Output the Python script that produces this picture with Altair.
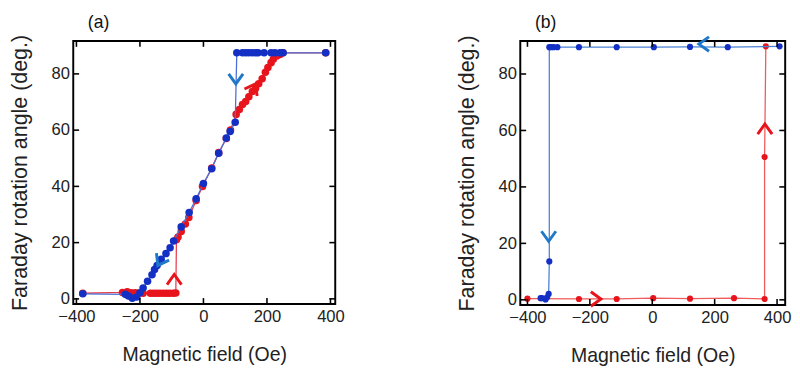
import altair as alt
import pandas as pd

# ---------------- data ----------------
x_ticks = [-400, -200, 0, 200, 400]
y_ticks = [0, 20, 40, 60, 80]

# Panel (a): blue = decreasing field branch, red = increasing field branch
a_blue_x = [385, 251, 241, 225, 213, 191, 172, 164, 154, 143, 133, 123, 105,
            100, 84, 72, 48, 26, 0, -23, -45, -70, -94, -105, -118, -133, -146,
            -154, -162, -176, -190, -200, -210, -224, -236, -246, -380]
a_blue_y = [87.5, 87.5, 87.5, 87.5, 87.5, 87.5, 87.5, 87.5, 87.5, 87.5, 87.5, 87.5, 87.5,
            62.8, 59.5, 57.2, 51.8, 46.3, 41.0, 35.6, 30.7, 25.6, 20.6, 18.2, 16.1, 14.1, 11.9,
            10.4, 8.6, 6.3, 3.9, 2.2, 0.7, 0.2, 1.0, 1.6, 1.8]
a_red_x = [-380, -255, -240, -228, -215, -202, -190, -167, -157, -147, -137, -126, -116,
           -106, -95, -87, -85, -80, -70, -57, -46, -23, -3, 26, 48, 72, 85, 103, 113,
           123, 133, 143, 154, 164, 174, 185, 195, 203, 213, 220, 231, 241, 250, 385]
a_red_y = [2.0, 2.3, 2.5, 2.2, 2.2, 2.1, 2.0, 2.0, 2.0, 2.0, 2.0, 2.0, 2.0,
           2.0, 2.0, 2.1, 21.0, 22.0, 24.0, 26.6, 28.9, 35.0, 40.0, 46.5, 52.0, 57.0, 60.0, 65.6, 67.3,
           69.1, 70.2, 71.9, 73.7, 74.8, 76.5, 78.3, 80.6, 82.3, 84.0, 85.2, 86.4, 86.9, 87.5, 87.5]
a_arrow_x = [102, -138, -92, 159]
a_arrow_y = [77.7, 13.0, 7.4, 75.4]
a_arrow_dir = [0, 29, 180, 209]
a_arrow_series = ["blue", "blue", "red", "red"]

# Panel (b)
b_blue_x = [408, 242, 121, 5, -114, -235, -304, -316, -324, -330, -330, -332, -337, -342, -353, -358]
b_blue_y = [89.8, 89.5, 89.6, 89.5, 89.5, 89.5, 89.5, 89.5, 89.5, 89.5, 13.6, 2.1, 0.9, 0.1, 0.6, 0.6]
b_red_x = [-400, -235, -114, 3, 121, 262, 360, 360, 364]
b_red_y = [0.4, 0.3, 0.3, 0.6, 0.4, 0.6, 0.3, 50.6, 89.8]
b_arrow_x = [-332, 161, -176, 361]
b_arrow_y = [22.0, 90.6, 0.3, 61.0]
b_arrow_dir = [0, 90, 270, 180]
b_arrow_series = ["blue", "blue", "red", "red"]

FONT = "Liberation Sans"
CHEVRON = "M -1 -0.9 L 0 0.5 L 1 -0.9"
Y_DOMAIN = [-1.8, 91.7]


def panel(bx, by, rx, ry, ax, ay, adir, aser, xdom, label, msize,
          blue_line, red_line, w, h):
    xs = alt.Scale(domain=xdom, nice=False, zero=False)
    ys = alt.Scale(domain=Y_DOMAIN, nice=False, zero=False)
    X = alt.X("x:Q", scale=xs,
              axis=alt.Axis(values=x_ticks, title="Magnetic field (Oe)",
                            ticks=False, domain=False, grid=False,
                            labelPadding=5, titlePadding=21, titleFontSize=20))
    Y = alt.Y("y:Q", scale=ys,
              axis=alt.Axis(values=y_ticks, title="Faraday rotation angle  (deg.)",
                            ticks=False, domain=False, grid=False,
                            labelPadding=4, titlePadding=20, titleFontSize=22))
    blue = pd.DataFrame({"x": bx, "y": by, "i": list(range(len(bx)))})
    red = pd.DataFrame({"x": rx, "y": ry, "i": list(range(len(rx)))})
    arr = pd.DataFrame({"x": ax, "y": ay, "d": adir, "s": aser})
    xt = pd.DataFrame({"x": x_ticks})
    yt = pd.DataFrame({"y": y_ticks})

    def line(df, color):
        return alt.Chart(df).mark_line(color=color, strokeWidth=1.3).encode(
            x=X, y=Y, order="i:Q")

    def pts(df, color):
        return alt.Chart(df).mark_circle(color=color, size=msize, opacity=1).encode(x=X, y=Y)

    arrows = alt.Chart(arr).mark_point(shape=CHEVRON, filled=False, strokeWidth=3,
                                       size=220, opacity=1).encode(
        x=X, y=Y,
        angle=alt.Angle("d:Q", scale=None),
        color=alt.Color("s:N", scale=alt.Scale(domain=["blue", "red"],
                                               range=["#1f78c8", "#e8141c"]), legend=None))

    tick_style = dict(color="black", strokeWidth=1.6)
    t_bottom = alt.Chart(xt).mark_rule(**tick_style).encode(x=X, y=alt.value(h), y2=alt.value(h - 6))
    t_top = alt.Chart(xt).mark_rule(**tick_style).encode(x=X, y=alt.value(0), y2=alt.value(6))
    t_left = alt.Chart(yt).mark_rule(**tick_style).encode(y=Y, x=alt.value(0), x2=alt.value(6))
    t_right = alt.Chart(yt).mark_rule(**tick_style).encode(y=Y, x=alt.value(w), x2=alt.value(w - 6))

    return alt.layer(
        line(red, red_line), pts(red, "#e8141c"),
        line(blue, blue_line), pts(blue, "#1430c4"),
        arrows, t_bottom, t_top, t_left, t_right,
    ).properties(
        width=w, height=h,
        title=alt.TitleParams(text=label, anchor="start", frame="group", dx=15, offset=-1,
                              fontSize=18, fontWeight="normal", font=FONT, color="#111"),
    )


pa = panel(a_blue_x, a_blue_y, a_red_x, a_red_y, a_arrow_x, a_arrow_y, a_arrow_dir,
           a_arrow_series, [-410, 415], "(a)", 60, "#4a6fd8", "#e84050", 269, 270)
pb = panel(b_blue_x, b_blue_y, b_red_x, b_red_y, b_arrow_x, b_arrow_y, b_arrow_dir,
           b_arrow_series, [-423, 426], "(b)", 40, "#4a80d4", "#f05a5a", 272, 271)

chart = alt.hconcat(pa, pb, spacing=112).properties(
    padding={"left": 0, "top": 0, "right": 0, "bottom": 0}
).configure_view(
    stroke="black", strokeWidth=2
).configure_axis(
    labelFont=FONT, labelFontSize=17, labelColor="#222",
    titleFont=FONT, titleFontWeight="normal", titleColor="#222",
)

chart.save("out.html", embed_options={"renderer": "svg", "actions": False})
